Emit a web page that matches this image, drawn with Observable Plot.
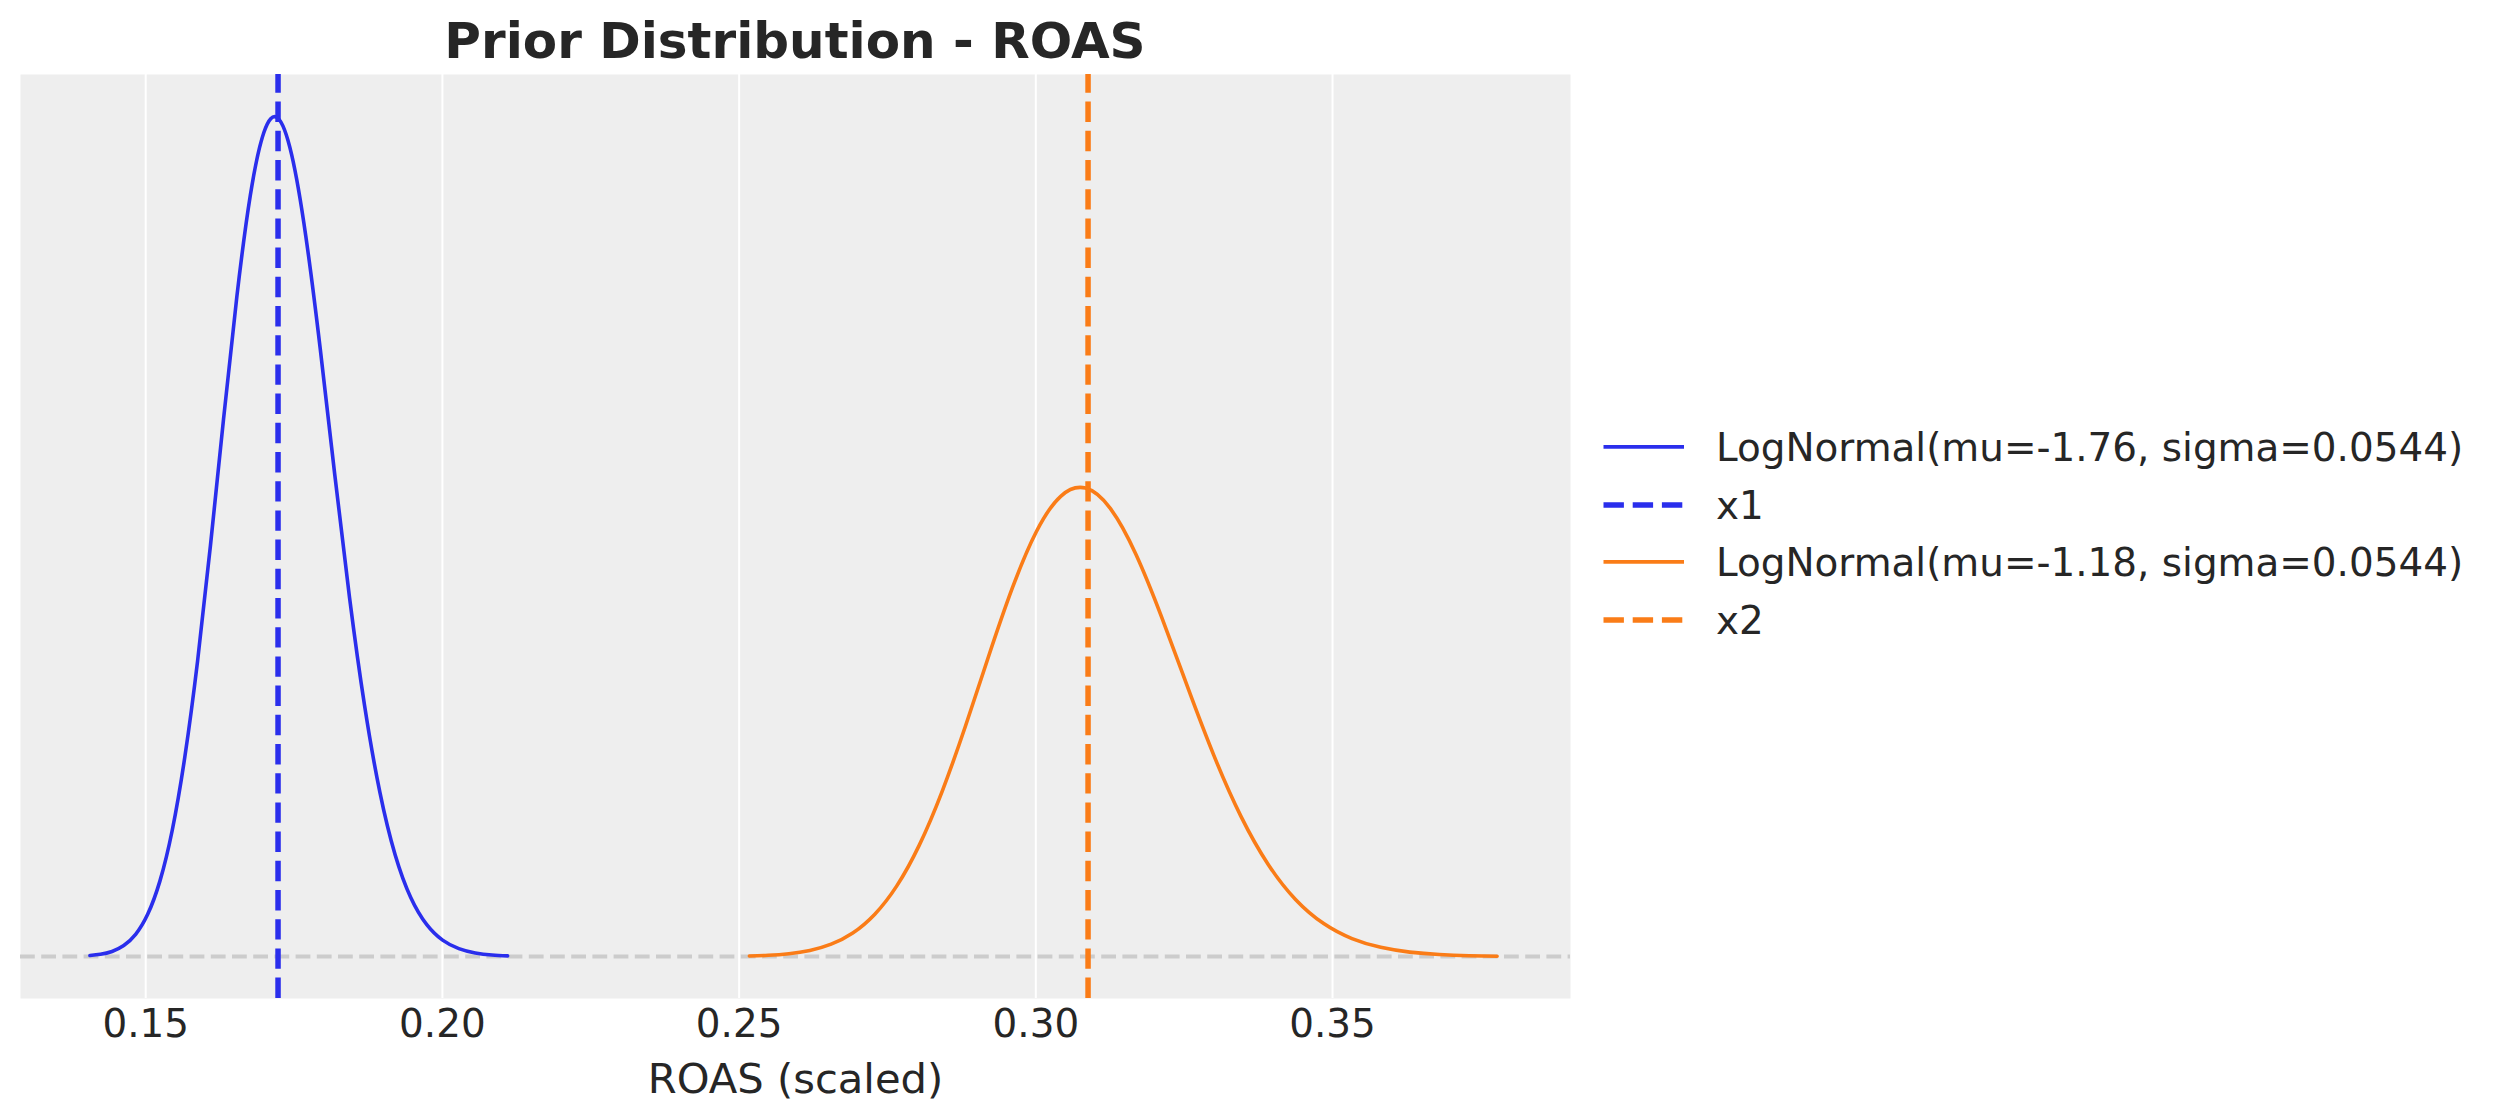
<!DOCTYPE html>
<html>
<head>
<meta charset="utf-8">
<script src="https://cdn.jsdelivr.net/npm/d3@7"></script>
<script src="https://cdn.jsdelivr.net/npm/@observablehq/plot@0.6"></script>
<style>
  html, body { margin: 0; padding: 0; background: #ffffff; }
  #wrap { position: relative; width: 2496px; height: 1119px; font-family: "DejaVu Sans", sans-serif; color: #262626; }
  #title { position: absolute; left: 20px; width: 1550px; top: 16px; text-align: center; font-weight: bold; font-size: 50px; line-height: 50px; white-space: nowrap; }
  .lrow { position: absolute; left: 1603px; height: 40px; width: 880px; }
  .lrow svg { position: absolute; left: 0; top: 0; }
  .lrow span { position: absolute; left: 113px; top: 0; font-size: 38.9px; line-height: 38.9px; white-space: nowrap; }
  #chart { position: absolute; left: 0; top: 0; }
</style>
</head>
<body>
<div id="wrap">
  <div id="chart"></div>
  <div id="title"></div>
  <div id="legend"></div>
</div>
<script>
// ---- data ----
const titleText = "Prior Distribution - ROAS";
const xLabel = "ROAS (scaled)";
const xTicks = [0.15, 0.20, 0.25, 0.30, 0.35];
const xTickLabels = ["0.15", "0.20", "0.25", "0.30", "0.35"];

const blueX = [0.14060, 0.14237, 0.14432, 0.14630, 0.14830, 0.15033, 0.15239, 0.15448, 0.15659, 0.15874,
  0.16091, 0.16311, 0.16535, 0.16761, 0.16991, 0.17223, 0.17459, 0.17698, 0.17941, 0.18186,
  0.18435, 0.18688, 0.18944, 0.19203, 0.19466, 0.19733, 0.20003, 0.20277, 0.20554, 0.20836, 0.21098];
const blueY = [0.0497, 0.1127, 0.2584, 0.5569, 1.1267, 2.1436, 3.8287, 6.4247, 10.128, 14.999,
  20.866, 27.270, 33.479, 38.613, 41.834, 42.579, 40.712, 36.569, 30.856, 24.459,
  18.213, 12.741, 8.3725, 5.1683, 2.9973, 1.6331, 0.8354, 0.4018, 0.1815, 0.0770, 0.0331];

const orangeX = [0.25173, 0.25490, 0.25839, 0.26192, 0.26551, 0.26915, 0.27283, 0.27657, 0.28036, 0.28420,
  0.28809, 0.29203, 0.29603, 0.30008, 0.30419, 0.30836, 0.31258, 0.31686, 0.32120, 0.32560,
  0.33005, 0.33457, 0.33916, 0.34380, 0.34851, 0.35328, 0.35812, 0.36302, 0.36799, 0.37303, 0.37773];
const orangeY = [0.0278, 0.0629, 0.1443, 0.3111, 0.6293, 1.1973, 2.1385, 3.5884, 5.6569, 8.3775,
  11.654, 15.231, 18.699, 21.567, 23.366, 23.782, 22.739, 20.425, 17.234, 13.661,
  10.173, 7.116, 4.676, 2.887, 1.674, 0.912, 0.467, 0.224, 0.101, 0.043, 0.0185];

const refValues = [0.1723, 0.3088];
const seriesColors = ["#2a2eec", "#fa7c17"];
const legendLabels = ["LogNormal(mu=-1.76, sigma=0.0544)", "x1", "LogNormal(mu=-1.18, sigma=0.0544)", "x2"];
const legendKinds = ["solid", "dashed", "solid", "dashed"];
const legendColors = ["#2a2eec", "#2a2eec", "#fa7c17", "#fa7c17"];

// ---- build tables ----
const blue = blueX.map((x, i) => ({x, y: blueY[i]}));
const orange = orangeX.map((x, i) => ({x, y: orangeY[i]}));
const yMin = -2.13, yMax = 44.78;

const curveW = 3.6, vW = 5.5, vDash = "20.4,8.8";

const chart = Plot.plot({
  width: 2496,
  height: 1119,
  marginLeft: 20,
  marginRight: 926,
  marginTop: 74,
  marginBottom: 121,
  style: { fontFamily: "DejaVu Sans", fontSize: "38.9px", color: "#262626", background: "transparent" },
  x: { domain: [0.1289, 0.3901] },
  y: { domain: [yMin, yMax], axis: null },
  marks: [
    Plot.frame({ fill: "#eeeeee", stroke: "none" }),
    Plot.gridX(xTicks, { stroke: "#ffffff", strokeOpacity: 1, strokeWidth: 2 }),
    Plot.ruleY([0], { stroke: "#cccccc", strokeWidth: 4, strokeDasharray: "14.8,6.4" }),
    Plot.line(blue, { x: "x", y: "y", stroke: seriesColors[0], strokeWidth: curveW, curve: "natural" }),
    Plot.ruleX([refValues[0]], { y1: yMin, y2: yMax, stroke: seriesColors[0], strokeWidth: vW, strokeDasharray: vDash }),
    Plot.line(orange, { x: "x", y: "y", stroke: seriesColors[1], strokeWidth: curveW, curve: "natural" }),
    Plot.ruleX([refValues[1]], { y1: yMin, y2: yMax, stroke: seriesColors[1], strokeWidth: vW, strokeDasharray: vDash }),
    Plot.axisX(xTicks, {
      tickSize: 0,
      tickPadding: 11,
      tickFormat: (d, i) => xTickLabels[i],
      label: null
    }),
    Plot.text([xLabel], {
      text: d => d,
      frameAnchor: "bottom",
      dy: 94,
      fontSize: 41.67,
      fill: "#262626"
    })
  ]
});
document.getElementById("chart").appendChild(chart);

document.getElementById("title").textContent = titleText;

const legend = document.getElementById("legend");
legendLabels.forEach((lab, i) => {
  const row = document.createElement("div");
  row.className = "lrow";
  row.style.top = (428.8 + i * 57.8) + "px";
  const dashed = legendKinds[i] === "dashed";
  row.innerHTML =
    `<svg width="82" height="40"><line x1="0.5" x2="81" y1="17.9" y2="17.9" stroke="${legendColors[i]}" ` +
    `stroke-width="${dashed ? vW : curveW}" ${dashed ? `stroke-dasharray="${vDash}"` : ""}></line></svg>` +
    `<span></span>`;
  row.querySelector("span").textContent = lab;
  legend.appendChild(row);
});
</script>
</body>
</html>
